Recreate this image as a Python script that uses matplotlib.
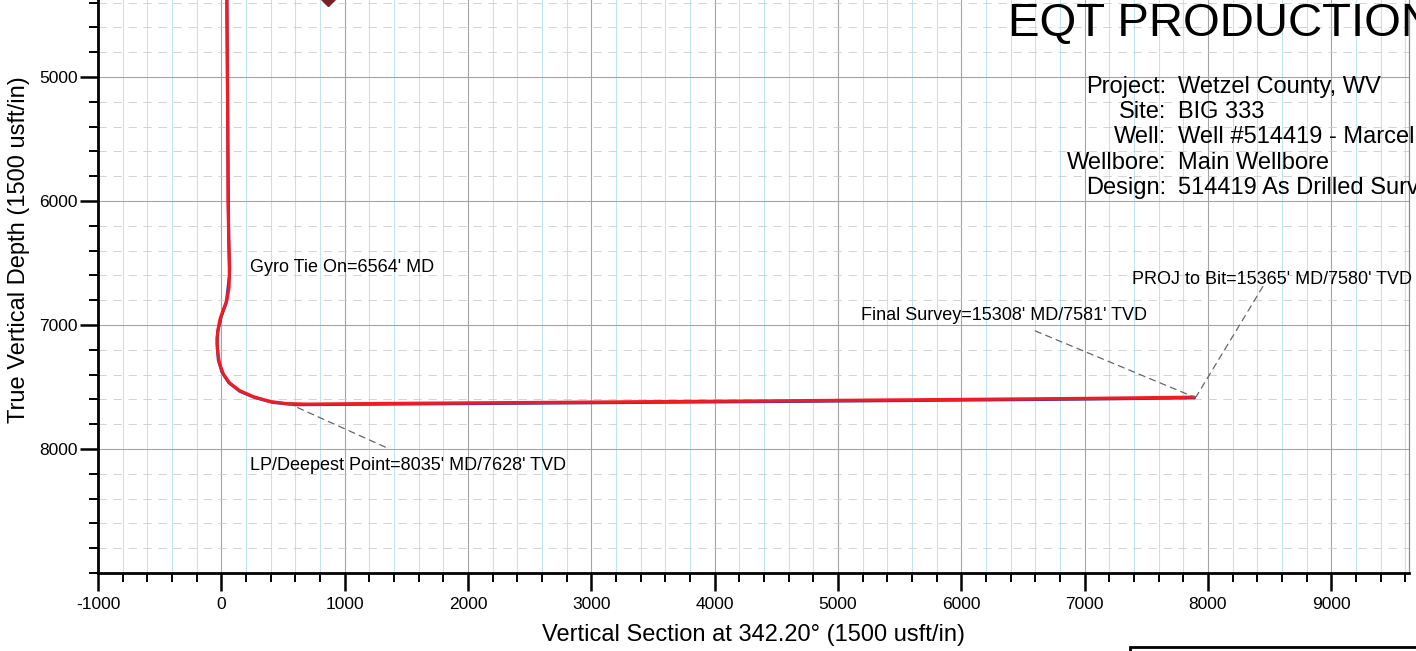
import numpy as np
import matplotlib
matplotlib.use("Agg")
import matplotlib.pyplot as plt
from matplotlib.ticker import MultipleLocator
from matplotlib.patches import Rectangle

plt.rcParams['font.family'] = ['Liberation Sans', 'DejaVu Sans']
plt.rcParams['axes.unicode_minus'] = False

# as drilled survey (vertical section, TVD)
vs_survey = [45, 48, 52, 54, 60, 67, 62, 45, 15, -10, -28, -35, -32, -15, 18, 70,
             150, 260, 395, 530, 700, 1400, 2500, 3500, 4700, 6000, 7000, 7890]
tvd_survey = [4380, 4800, 5400, 6000, 6300, 6540, 6700, 6800, 6880, 6950, 7040, 7110,
              7200, 7310, 7400, 7470, 7530, 7578, 7617, 7634, 7638, 7632, 7625, 7618,
              7610, 7600, 7592, 7582]

# plan line (blue, mostly hidden under the survey)
vs_plan = [45, 52, 60, 66, 40, 0, -30, -34, -25, 5, 60, 150, 270, 420, 600, 1400,
           2500, 3500, 4700, 6000, 7000, 7890]
tvd_plan = [4380, 5400, 6300, 6600, 6820, 6930, 7060, 7150, 7280, 7380, 7465, 7535,
            7585, 7625, 7643, 7638, 7631, 7624, 7616, 7606, 7598, 7588]

# target marker just above the top edge
target_vs = [868]
target_tvd = [4352]

y_ticks = [5000, 6000, 7000, 8000]

info_keys = ['Project:', 'Site:', 'Well:', 'Wellbore:', 'Design:']
info_vals = ['Wetzel County, WV', 'BIG 333', 'Well #514419 - Marcel',
             'Main Wellbore', '514419 As Drilled Surv']

W, H = 1416, 651
fig = plt.figure(figsize=(W / 100, H / 100), dpi=100)
ax = fig.add_axes([98 / W, 1 - 573 / H, (1409 - 98) / W, 573 / H])

ax.set_xlim(-1000, 9630)
ax.set_ylim(9000, 4379)

ax.xaxis.set_major_locator(MultipleLocator(1000))
ax.xaxis.set_minor_locator(MultipleLocator(200))
ax.set_yticks(y_ticks)
ax.yaxis.set_minor_locator(MultipleLocator(200))

ax.grid(which='major', color='#a4a4a4', lw=0.8)
ax.xaxis.grid(which='minor', color='#bfe5ee', lw=0.8)
ax.yaxis.grid(which='minor', color='#cccccc', lw=0.6, linestyle=(0, (10, 8)))
ax.set_axisbelow(True)

ax.plot(vs_plan, tvd_plan, color='#3b3ba8', lw=2.2, solid_capstyle='round')
ax.plot(vs_survey, tvd_survey, color='#ee1c24', lw=2.3, solid_capstyle='round',
        solid_joinstyle='round')
ax.plot(target_vs, target_tvd, 'D', color='#7a1f24', ms=9, clip_on=True)

lead = dict(arrowstyle='-', linestyle=(0, (5, 4)), color='#666666', lw=0.9,
            shrinkA=0, shrinkB=0)
fs_note = 13
ax.text(230, 6540, "Gyro Tie On=6564' MD", fontsize=fs_note, va='center')
ax.annotate("", xy=(560, 7640), xytext=(1330, 7985), arrowprops=lead)
ax.text(230, 8136, "LP/Deepest Point=8035' MD/7628' TVD", fontsize=fs_note, va='center')
ax.annotate("", xy=(vs_survey[-1], tvd_survey[-1]), xytext=(6600, 7048), arrowprops=lead)
ax.text(5185, 6920, "Final Survey=15308' MD/7581' TVD", fontsize=fs_note, va='center')
ax.annotate("", xy=(vs_survey[-1] + 15, tvd_survey[-1] - 5), xytext=(8445, 6690),
            arrowprops=lead)
ax.text(7380, 6632, "PROJ to Bit=15365' MD/7580' TVD", fontsize=fs_note, va='center')

ax.spines['top'].set_visible(False)
ax.spines['right'].set_color('#8a8a8a')
ax.spines['right'].set_linewidth(0.9)
for s in ['left', 'bottom']:
    ax.spines[s].set_linewidth(2)
ax.tick_params(which='major', direction='out', length=13, width=1.8, labelsize=12.5)
ax.tick_params(which='minor', direction='out', length=6.5, width=1.4)
ax.tick_params(axis='y', which='major', pad=1.5)
ax.tick_params(axis='x', which='major', pad=4)
ax.tick_params(right=False, top=False, which='both')

ax.set_xlabel('Vertical Section at 342.20\u00b0 (1500 usft/in)', fontsize=17, labelpad=9)
ax.set_ylabel('True Vertical Depth (1500 usft/in)', fontsize=17)
ax.yaxis.set_label_coords(-0.052, 0.565)

# header block
fig.text(1008 / W, 1 - 24 / H, 'EQT PRODUCTION', fontsize=34, va='center', ha='left')
for i, (k, v) in enumerate(zip(info_keys, info_vals)):
    y = 1 - (87 + i * 25.2) / H
    fig.text(1166 / W, y, k, fontsize=17, ha='right', va='center')
    fig.text(1178 / W, y, v, fontsize=17, ha='left', va='center')

fig.patches.append(Rectangle((1130 / W, -0.05), 0.3, 0.05 + (651 - 647) / H,
                             transform=fig.transFigure, fill=False, lw=2,
                             edgecolor='black'))

fig.savefig('out.png', dpi=100)
